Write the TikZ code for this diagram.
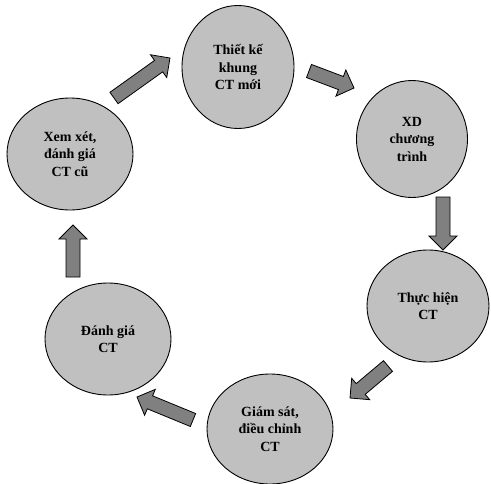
\documentclass[tikz,border=0pt]{standalone}
\usepackage{fontspec}
\setmainfont{Liberation Serif}
\usetikzlibrary{shapes.geometric,calc}

\definecolor{circlegray}{RGB}{192,192,192}
\definecolor{arrowgray}{RGB}{128,128,128}

% block arrow from tail #1 to tip #2
\newcommand{\blockarrow}[2]{%
    \coordinate (N) at ($(#2)!14pt!(#1)$);
    \draw[arrowbody] ($(#1)!7pt!90:(#2)$) -- ($(N)!7pt!90:(#2)$) -- ($(N)!14pt!90:(#2)$)
        -- (#2) -- ($(N)!14pt!-90:(#2)$) -- ($(N)!7pt!-90:(#2)$) -- ($(#1)!7pt!-90:(#2)$) -- cycle;
}

\begin{document}
\begin{tikzpicture}[x=1pt, y=-1pt,
        stagecircle/.style={shape=ellipse, draw=black, fill=circlegray, line width=0.9pt, inner sep=0pt,
            align=center, font=\bfseries\fontsize{14}{17.5}\selectfont},
        arrowbody/.style={draw=black, fill=arrowgray, line width=0.8pt, line join=miter}]
        \useasboundingbox (0,0) rectangle (491,483);
        \node[stagecircle, minimum width=112pt, minimum height=123pt] (C1) at (238, 67) {Thiết kế\\khung\\CT mới};
        \node[stagecircle, minimum width=111pt, minimum height=117pt] (C2) at (412, 139) {XD\\chương\\trình};
        \node[stagecircle, minimum width=122pt, minimum height=112pt] (C3) at (428, 306) {Thực hiện\\CT};
        \node[stagecircle, minimum width=126pt, minimum height=110pt] (C4) at (270, 429) {Giám sát,\\điều chỉnh\\CT};
        \node[stagecircle, minimum width=126pt, minimum height=112pt] (C5) at (108, 339) {Đánh giá\\CT};
        \node[stagecircle, minimum width=126pt, minimum height=112pt] (C6) at (70, 154) {Xem xét,\\đánh giá\\CT cũ};
        \coordinate (S1) at (114, 98);  \coordinate (E1) at (170, 58);
        \coordinate (S2) at (309, 71);  \coordinate (E2) at (354, 88);
        \coordinate (S3) at (443, 197); \coordinate (E3) at (443, 250);
        \coordinate (S4) at (388, 366); \coordinate (E4) at (350, 398);
        \coordinate (S5) at (193, 420); \coordinate (E5) at (137, 397);
        \coordinate (S6) at (73, 277);  \coordinate (E6) at (73, 225);
        \blockarrow{S1}{E1}
        \blockarrow{S2}{E2}
        \blockarrow{S3}{E3}
        \blockarrow{S4}{E4}
        \blockarrow{S5}{E5}
        \blockarrow{S6}{E6}
    \end{tikzpicture}
\end{document}
